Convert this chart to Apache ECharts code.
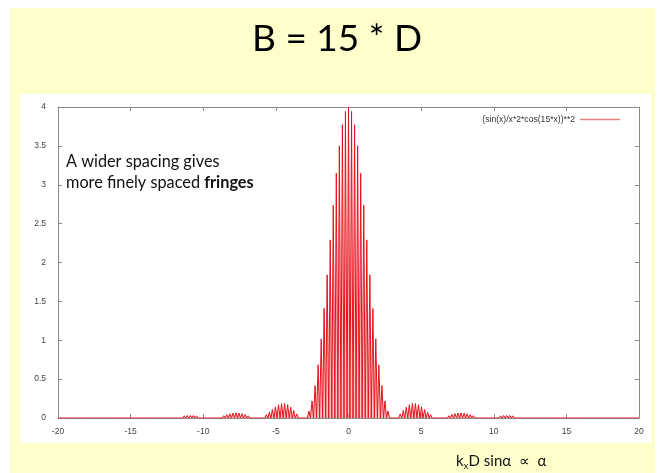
<!DOCTYPE html>
<html>
<head>
<meta charset="utf-8">
<script src="https://cdn.jsdelivr.net/npm/echarts@6/dist/echarts.min.js"></script>
<style>
  html, body { margin: 0; padding: 0; background: #ffffff; }
  #wrap { position: relative; width: 658px; height: 473px; overflow: hidden; }
  #slide { position: absolute; left: 10px; top: 8px; width: 645px; height: 465px; background: #ffffcc; }
  #panel { position: absolute; left: 20px; top: 94px; width: 631px; height: 349px; background: #ffffff; }
  #chart { position: absolute; left: 0; top: 0; width: 658px; height: 473px; }
</style>
</head>
<body>
<div id="wrap">
  <div id="slide"></div>
  <div id="panel"></div>
  <div id="chart"></div>
</div>
<script>
// Intensity pattern, right half (x >= 0): fringe maxima alternate with dark minima.
const halfX = [
  0.00, 0.10, 0.21, 0.31, 0.42, 0.52, 0.63, 0.73, 0.84, 0.94,
  1.05, 1.15, 1.26, 1.36, 1.47, 1.57, 1.68, 1.78, 1.88, 1.99,
  2.09, 2.20, 2.30, 2.41, 2.51, 2.62, 2.72, 2.83, 2.93, 3.04,
  3.14, 3.25, 3.35, 3.46, 3.56, 3.67, 3.77, 3.87, 3.98, 4.08,
  4.19, 4.29, 4.40, 4.50, 4.61, 4.71, 4.82, 4.92, 5.03, 5.13,
  5.24, 5.34, 5.45, 5.55, 5.65, 5.76, 5.86, 5.97, 6.07, 6.18,
  6.28, 6.39, 6.49, 6.60, 6.70, 6.81, 6.91, 7.02, 7.12, 7.23,
  7.33, 7.44, 7.54, 7.64, 7.75, 7.85, 7.96, 8.06, 8.17, 8.27,
  8.38, 8.48, 8.59, 8.69, 8.80, 8.90, 9.01, 9.11, 9.22, 9.32,
  9.42, 9.53, 9.63, 9.74, 9.84, 9.95, 10.05, 10.16, 10.26, 10.37,
  10.47, 10.58, 10.68, 10.79, 10.89, 11.00, 11.10, 11.21, 11.31, 11.41,
  11.52, 11.62, 11.73, 11.83, 11.94, 12.04, 12.15, 12.25, 12.36, 12.46,
  12.57, 12.67, 12.78, 12.88, 12.99, 13.09, 13.19, 13.30, 13.40, 13.51,
  13.61, 13.72, 13.82, 13.93, 14.03, 14.14, 14.24, 14.35, 14.45, 14.56,
  14.66, 14.77, 14.87, 14.97, 15.08, 15.18, 15.29, 15.39, 15.50, 15.60,
  15.71, 15.81, 15.92, 16.02, 16.13, 16.23, 16.34, 16.44, 16.55, 16.65,
  16.76, 16.86, 16.96, 17.07, 17.17, 17.28, 17.38, 17.49, 17.59, 17.70,
  17.80, 17.91, 18.01, 18.12, 18.22, 18.33, 18.43, 18.54, 18.64, 18.74,
  18.85, 18.95, 19.06, 19.16, 19.27, 19.37, 19.48, 19.58, 19.69, 19.79,
  19.90, 20.00
];
const halfY = [
  4, 0, 3.942, 0, 3.772, 0, 3.501, 0, 3.148, 0,
  2.736, 0, 2.291, 0, 1.841, 0, 1.409, 0, 1.018, 0,
  0.684, 0, 0.416, 0, 0.219, 0, 0.089, 0, 0.020, 0,
  0, 0, 0.015, 0, 0.052, 0, 0.097, 0, 0.140, 0,
  0.171, 0, 0.187, 0, 0.186, 0, 0.171, 0, 0.143, 0,
  0.109, 0, 0.075, 0, 0.043, 0, 0.019, 0, 0.005, 0,
  0, 0, 0.004, 0, 0.015, 0, 0.029, 0, 0.044, 0,
  0.056, 0, 0.064, 0, 0.066, 0, 0.063, 0, 0.054, 0,
  0.043, 0, 0.030, 0, 0.018, 0, 0.008, 0, 0.002, 0,
  0, 0, 0.002, 0, 0.007, 0, 0.014, 0, 0.021, 0,
  0.027, 0, 0.032, 0, 0.033, 0, 0.032, 0, 0.028, 0,
  0.023, 0, 0.016, 0, 0.010, 0, 0.005, 0, 0.001, 0,
  0, 0, 0.001, 0, 0.004, 0, 0.008, 0, 0.012, 0,
  0.016, 0, 0.019, 0, 0.020, 0, 0.020, 0, 0.017, 0,
  0.014, 0, 0.010, 0, 0.006, 0, 0.003, 0, 0.001, 0,
  0, 0, 0.001, 0, 0.003, 0, 0.005, 0, 0.008, 0,
  0.011, 0, 0.013, 0, 0.013, 0, 0.013, 0, 0.012, 0,
  0.010, 0, 0.007, 0, 0.004, 0, 0.002, 0, 0.001, 0,
  0, 0, 0.001, 0, 0.002, 0, 0.004, 0, 0.006, 0,
  0.008, 0
];
const seriesName = '(sin(x)/x*2*cos(15*x))**2';
const xTicks = [-20, -15, -10, -5, 0, 5, 10, 15, 20];
const yTicks = [0, 0.5, 1, 1.5, 2, 2.5, 3, 3.5, 4];

// The pattern is symmetric about x = 0: mirror the right half onto the left.
const curve = [];
for (let i = halfX.length - 1; i >= 1; i--) curve.push([-halfX[i], halfY[i]]);
for (let i = 0; i < halfX.length; i++) curve.push([halfX[i], halfY[i]]);

const tickFont = { fontFamily: 'Liberation Sans, Arial, sans-serif', fontSize: 8.5, color: '#444' };
const frame = { lineStyle: { color: '#8a8a8a', width: 1 } };

const chart = echarts.init(document.getElementById('chart'), null, { renderer: 'canvas' });
chart.setOption({
  backgroundColor: 'transparent',
  animation: false,
  grid: { left: 58, top: 107, right: 19, bottom: 55 },
  legend: {
    data: [{ name: seriesName, itemStyle: { color: '#f08080' } }],
    icon: 'rect', itemWidth: 40, itemHeight: 1.5, align: 'right',
    right: 33, top: 110,
    textStyle: { fontFamily: 'Liberation Sans, Arial, sans-serif', fontSize: 8.6, color: '#333' }
  },
  xAxis: [
    {
      type: 'value', min: xTicks[0], max: xTicks[xTicks.length - 1], interval: 5,
      axisLine: { show: true, onZero: false, ...frame },
      axisTick: { show: true, inside: true, length: 4, ...frame },
      axisLabel: { ...tickFont, margin: 9 },
      splitLine: { show: false }
    },
    {
      type: 'value', position: 'top', min: xTicks[0], max: xTicks[xTicks.length - 1], interval: 5,
      axisLine: { show: true, onZero: false, ...frame },
      axisTick: { show: true, inside: true, length: 4, ...frame },
      axisLabel: { show: false }, splitLine: { show: false }
    }
  ],
  yAxis: [
    {
      type: 'value', min: yTicks[0], max: yTicks[yTicks.length - 1], interval: 0.5,
      axisLine: { show: true, onZero: false, ...frame },
      axisTick: { show: true, inside: true, length: 4, ...frame },
      axisLabel: { ...tickFont, margin: 12 },
      splitLine: { show: false }
    },
    {
      type: 'value', position: 'right', min: yTicks[0], max: yTicks[yTicks.length - 1], interval: 0.5,
      axisLine: { show: true, onZero: false, ...frame },
      axisTick: { show: true, inside: true, length: 4, ...frame },
      axisLabel: { show: false }, splitLine: { show: false }
    }
  ],
  series: [{
    name: seriesName,
    type: 'line',
    data: curve,
    showSymbol: false,
    sampling: null,
    lineStyle: { color: '#e4121c', width: 1 },
    itemStyle: { color: '#e4121c' },
    areaStyle: { color: '#f29a9a', opacity: 0.55 },
    z: 3
  }],
  graphic: [
    {
      type: 'text', left: 252, top: 21,
      style: { text: 'B = 15 * D', font: '37px Lato, "Open Sans", sans-serif', fill: '#000' }
    },
    {
      type: 'text', left: 66, top: 154,
      style: {
        text: '{n|A wider spacing gives}\n{n|more finely spaced }{b|fringes}',
        rich: {
          n: { font: '16.3px Lato, "Open Sans", sans-serif', fill: '#111', lineHeight: 21 },
          b: { font: 'bold 16.3px Lato, "Open Sans", sans-serif', fill: '#111', lineHeight: 21 }
        }
      }
    },
    {
      type: 'text', left: 456, top: 454,
      style: {
        text: '{n|k}{s|x}{n|D sin\u03b1  \u221d  \u03b1}',
        rich: {
          n: { font: '15px Lato, "Open Sans", sans-serif', fill: '#111' },
          s: { font: '10px Lato, "Open Sans", sans-serif', fill: '#111', padding: [8, 0, 0, 0] }
        }
      }
    }
  ]
});
</script>
</body>
</html>
